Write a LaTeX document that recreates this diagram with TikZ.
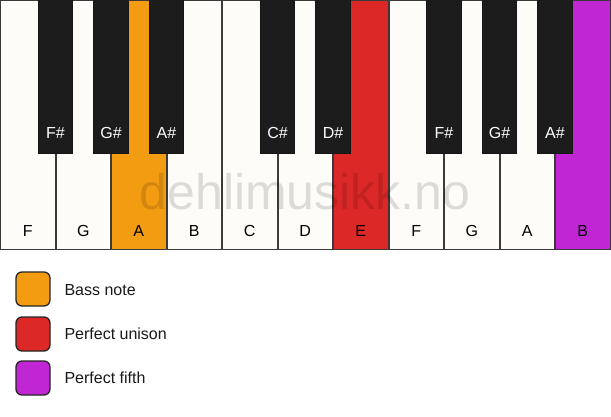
\documentclass[tikz,border=0pt]{standalone}
\usepackage{fontspec}
\setmainfont{Liberation Sans}
\definecolor{keywhite}{HTML}{FDFCF8}
\definecolor{keyblack}{HTML}{1C1C1C}
\definecolor{bassorange}{HTML}{F39C12}
\definecolor{unisonred}{HTML}{DD2828}
\definecolor{fifthpurple}{HTML}{C026D3}
\definecolor{edge}{HTML}{3A3A3A}
\begin{document}
\begin{tikzpicture}[x=1pt,y=-1pt,
  whitekey/.style={draw=edge,line width=1.4pt,fill=keywhite},
  blackkey/.style={draw=keyblack!80!black,line width=0.8pt,fill=keyblack},
  wlabel/.style={font=\fontsize{16}{19}\selectfont,text=black},
  blabel/.style={font=\fontsize{16}{19}\selectfont,text=white},
  legbox/.style={draw=black!85,line width=1.3pt,rounded corners=6pt,minimum width=34pt,minimum height=34pt,inner sep=0pt},
  legtext/.style={font=\fontsize{16}{19}\selectfont,anchor=west,text=black!90},
  watermark/.style={font=\fontsize{50}{54}\selectfont,text=black,opacity=0.13}
]
\useasboundingbox (0,0) rectangle (611,417);
\fill[white] (0,0) rectangle (611,417);
% white keys
\def\kw{55.5}
\foreach \i/\n/\c in {0/F/keywhite,1/G/keywhite,2/A/bassorange,3/B/keywhite,4/C/keywhite,5/D/keywhite,6/E/unisonred,7/F/keywhite,8/G/keywhite,9/A/keywhite,10/B/fifthpurple}{
  \path[whitekey,fill=\c] ({\i*\kw+0.7},0.7) rectangle ({(\i+1)*\kw-0.3},249.5);
  \node[wlabel] (w\i) at ({(\i+0.5)*\kw},230.5) {\n};
}
% black keys
\foreach \b/\n in {1/F\#,2/G\#,3/A\#,5/C\#,6/D\#,8/F\#,9/G\#,10/A\#}{
  \path[blackkey] ({\b*\kw-17.3},-1) rectangle ({\b*\kw+17.3},153);
  \node[blabel] (b\b) at ({\b*\kw},133) {\n};
}
% watermark
\node[watermark] (wm) at (305,192) {dehlimusikk.no};
% legend
\node[legbox,fill=bassorange] (l1) at (33,289) {};
\node[legtext] (t1) at (61,290) {Bass note};
\node[legbox,fill=unisonred] (l2) at (33,334) {};
\node[legtext] (t2) at (61,334) {Perfect unison};
\node[legbox,fill=fifthpurple] (l3) at (33,378) {};
\node[legtext] (t3) at (61,378) {Perfect fifth};
\end{tikzpicture}
\end{document}
